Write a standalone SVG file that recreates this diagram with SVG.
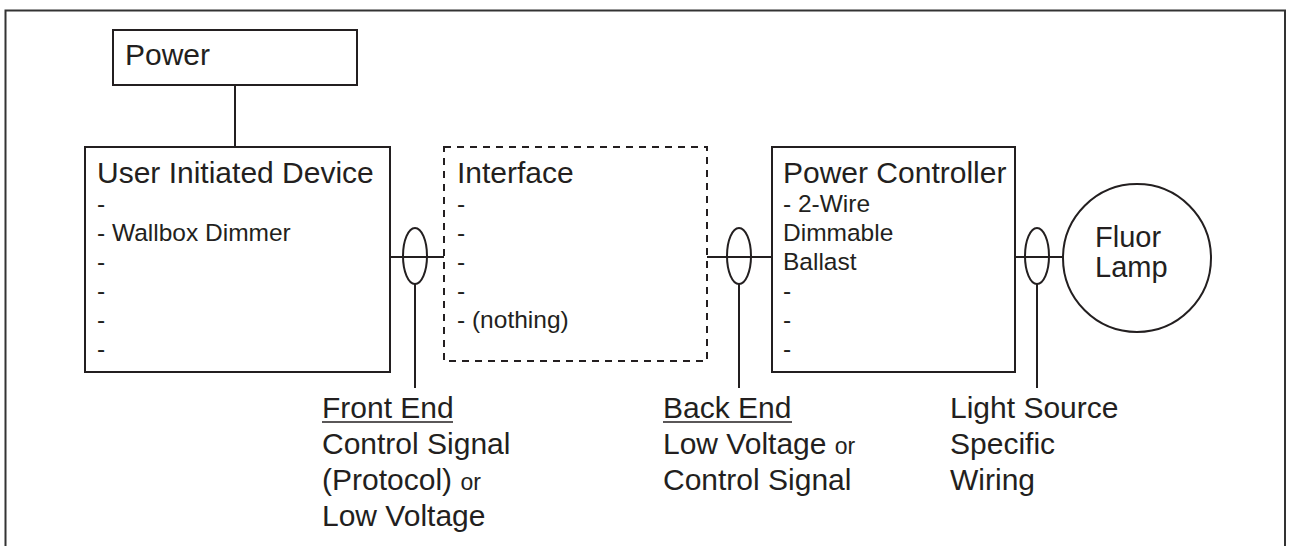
<svg xmlns="http://www.w3.org/2000/svg" width="1291" height="546" viewBox="0 0 1291 546">
<style>
.box{fill:#fff;stroke:#231f20;stroke-width:2}
.dash{fill:#fff;stroke:#231f20;stroke-width:2;stroke-dasharray:7 6}
.ln{fill:none;stroke:#231f20;stroke-width:2}
.t{font-family:"Liberation Sans",Arial,sans-serif;font-size:30px;fill:#231f20}
.f{font-family:"Liberation Sans",Arial,sans-serif;font-size:29px;fill:#231f20}
.i{font-family:"Liberation Sans",Arial,sans-serif;font-size:24.5px;fill:#231f20}
.s{font-size:23px}
</style>
<rect width="1291" height="546" fill="#fff"/>
<path d="M5.5,546 V10.5 H1285 V546" fill="none" stroke="#333" stroke-width="2"/>
<g id="connectors">
<line class="ln" x1="235" y1="85" x2="235" y2="147"/>
<line class="ln" x1="390" y1="257" x2="444" y2="257"/>
<ellipse class="ln" cx="415" cy="256" rx="12" ry="28"/>
<line class="ln" x1="415" y1="284" x2="415" y2="388"/>
<line class="ln" x1="707" y1="257" x2="772" y2="257"/>
<ellipse class="ln" cx="739" cy="256" rx="12" ry="28"/>
<line class="ln" x1="739" y1="284" x2="739" y2="388"/>
<line class="ln" x1="1015" y1="257" x2="1063" y2="257"/>
<ellipse class="ln" cx="1037" cy="256" rx="12" ry="28"/>
<line class="ln" x1="1037" y1="284" x2="1037" y2="388"/>
</g>
<g id="power">
<rect class="box" x="113" y="30" width="244" height="55"/>
<text class="t" x="125" y="65">Power</text>
</g>
<g id="user-device">
<rect class="box" x="85" y="147" width="305" height="225"/>
<text class="t" x="97" y="183">User Initiated Device</text>
<text class="i" x="97" y="212">-</text>
<text class="i" x="97" y="241">- Wallbox Dimmer</text>
<text class="i" x="97" y="270">-</text>
<text class="i" x="97" y="299">-</text>
<text class="i" x="97" y="328">-</text>
<text class="i" x="97" y="357">-</text>
</g>
<g id="interface">
<rect class="dash" x="444" y="147" width="263" height="214"/>
<text class="t" x="457" y="183">Interface</text>
<text class="i" x="457" y="212">-</text>
<text class="i" x="457" y="241">-</text>
<text class="i" x="457" y="270">-</text>
<text class="i" x="457" y="299">-</text>
<text class="i" x="457" y="328">- (nothing)</text>
</g>
<g id="power-controller">
<rect class="box" x="772" y="147" width="243" height="225"/>
<text class="t" x="783" y="183">Power Controller</text>
<text class="i" x="783" y="212">- 2-Wire</text>
<text class="i" x="783" y="241">Dimmable</text>
<text class="i" x="783" y="270">Ballast</text>
<text class="i" x="783" y="299">-</text>
<text class="i" x="783" y="328">-</text>
<text class="i" x="783" y="357">-</text>
</g>
<g id="fluor-lamp">
<circle class="box" cx="1137" cy="258" r="74"/>
<text class="f" x="1095" y="247">Fluor</text>
<text class="f" x="1095" y="277">Lamp</text>
</g>
<g id="front-end-label">
<text class="t" x="322" y="418">Front End</text>
<line x1="322" y1="422" x2="453" y2="422" stroke="#231f20" stroke-width="1.6"/>
<text class="t" x="322" y="454">Control Signal</text>
<text class="t" x="322" y="490">(Protocol) <tspan class="s">or</tspan></text>
<text class="t" x="322" y="526">Low Voltage</text>
</g>
<g id="back-end-label">
<text class="t" x="663" y="418">Back End</text>
<line x1="663" y1="422" x2="792" y2="422" stroke="#231f20" stroke-width="1.6"/>
<text class="t" x="663" y="454">Low Voltage <tspan class="s">or</tspan></text>
<text class="t" x="663" y="490">Control Signal</text>
</g>
<g id="light-source-label">
<text class="t" x="950" y="418">Light Source</text>
<text class="t" x="950" y="454">Specific</text>
<text class="t" x="950" y="490">Wiring</text>
</g>
</svg>
